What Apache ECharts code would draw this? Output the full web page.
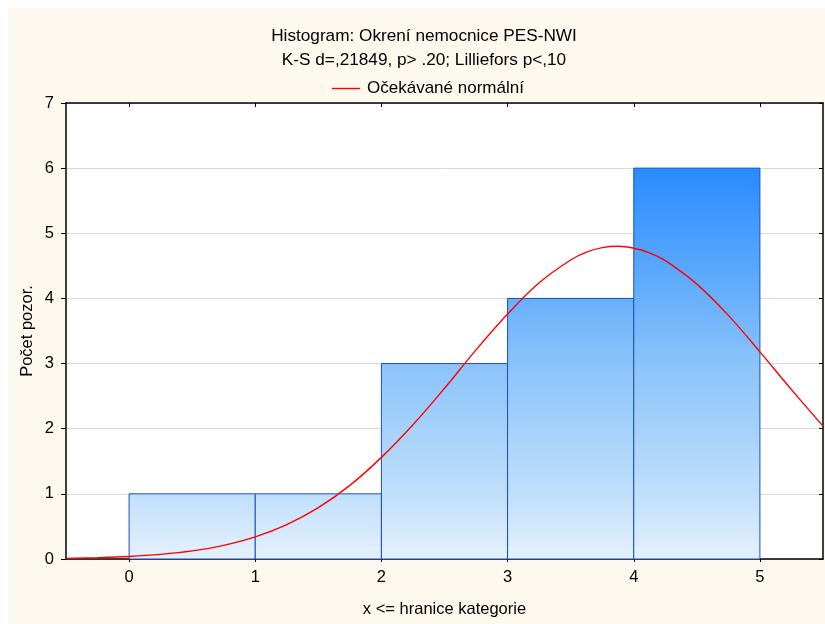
<!DOCTYPE html>
<html>
<head>
<meta charset="utf-8">
<script src="https://cdn.jsdelivr.net/npm/echarts@6/dist/echarts.min.js"></script>
<style>
html,body{margin:0;padding:0;background:#fff;}
#bg{position:absolute;left:8px;top:8px;width:817px;height:616px;background:#FDF9EF;}
#chart{position:absolute;left:0;top:0;width:825px;height:624px;}
</style>
</head>
<body>
<div id="bg"></div>
<div id="chart"></div>
<script>
// Histogram bins (upper bounds: x <= boundary)
const binStart = [0, 1, 2, 3, 4];
const binEnd = [1, 2, 3, 4, 5];
const counts = [1, 1, 3, 4, 6];
const xTicks = [0, 1, 2, 3, 4, 5];
const yTicks = [0, 1, 2, 3, 4, 5, 6, 7];
// Expected normal curve
const curveX = [-0.5, -0.25, 0, 0.25, 0.5, 0.75, 1, 1.25, 1.5, 1.75, 2, 2.25, 2.5, 2.75, 3, 3.25, 3.5, 3.625, 3.75, 3.875, 4, 4.125, 4.25, 4.5, 4.75, 5, 5.25, 5.5];
const curveY = [0.01, 0.021, 0.039, 0.071, 0.124, 0.21, 0.339, 0.528, 0.788, 1.13, 1.56, 2.06, 2.62, 3.21, 3.76, 4.24, 4.59, 4.71, 4.78, 4.80, 4.77, 4.70, 4.58, 4.22, 3.74, 3.18, 2.6, 2.04];

const titleText = 'Histogram: Okrení nemocnice PES-NWI';
const subText = 'K-S d=,21849, p> .20; Lilliefors p<,10';
const legendName = 'Očekávané normální';
const xName = 'x <= hranice kategorie';
const yName = 'Počet pozor.';

const FONT = '"Liberation Sans", Arial, sans-serif';
const chart = echarts.init(document.getElementById('chart'), null, {renderer: 'canvas'});

const barData = binStart.map((s, i) => [s, binEnd[i], counts[i]]);
const curveData = curveX.map((x, i) => [x, curveY[i]]);

const option = {
  backgroundColor: 'transparent',
  animation: false,
  graphic: [
    {type: 'text', x: 424, y: 36, style: {text: titleText, font: '17.2px ' + FONT, fill: '#000', textAlign: 'center', textVerticalAlign: 'middle'}},
    {type: 'text', x: 424, y: 60, style: {text: subText, font: '17.2px ' + FONT, fill: '#000', textAlign: 'center', textVerticalAlign: 'middle'}}
  ],
  legend: {
    left: 327, top: 75,
    itemWidth: 28, itemHeight: 14, itemGap: 10,
    textStyle: {fontFamily: FONT, fontSize: 17, color: '#000', padding: [0,0,0,2]},
    data: [{name: legendName, icon: 'path://M0,0 L28,0 L28,1.4 L0,1.4 Z', itemStyle: {color: '#FF0000'}}]
  },
  grid: {left: 66, top: 103, right: 2, bottom: 65, show: true, backgroundColor: '#fff', borderWidth: 0},
  xAxis: [
    {
      type: 'value', min: -0.5, max: 5.5, position: 'bottom',
      name: xName, nameLocation: 'middle', nameGap: 42,
      nameTextStyle: {fontFamily: FONT, fontSize: 16.5, color: '#000'},
      axisLine: {show: true, onZero: false, lineStyle: {color: '#000', width: 1.5}},
      axisTick: {show: true, inside: false, length: 3, customValues: xTicks, lineStyle: {color: '#000'}},
      axisLabel: {customValues: xTicks, fontFamily: FONT, fontSize: 16.5, color: '#000', margin: 10},
      splitLine: {show: false}
    },
    {
      type: 'value', min: -0.5, max: 5.5, position: 'top',
      axisLine: {show: true, onZero: false, lineStyle: {color: '#000', width: 1.5}},
      axisTick: {show: true, inside: true, length: 4, customValues: xTicks, lineStyle: {color: '#000'}},
      axisLabel: {show: false, customValues: xTicks},
      splitLine: {show: false}
    }
  ],
  yAxis: [
    {
      type: 'value', min: 0, max: 7, interval: 1, position: 'left',
      name: yName, nameLocation: 'middle', nameGap: 30, nameRotate: 90, nameMoveOverlap: false,
      nameTextStyle: {fontFamily: FONT, fontSize: 16.5, color: '#000'},
      axisLine: {show: true, onZero: false, lineStyle: {color: '#000', width: 1.5}},
      axisTick: {show: true, inside: false, length: 5, lineStyle: {color: '#000'}},
      axisLabel: {fontFamily: FONT, fontSize: 16.5, color: '#000', margin: 12},
      splitLine: {show: true, lineStyle: {color: '#D9D9D9', width: 1}}
    },
    {
      type: 'value', min: 0, max: 7, interval: 1, position: 'right',
      axisLine: {show: true, onZero: false, lineStyle: {color: '#000', width: 1.5}},
      axisTick: {show: true, inside: true, length: 4, lineStyle: {color: '#000'}},
      axisLabel: {show: false},
      splitLine: {show: false}
    }
  ],
  series: [
    {
      type: 'custom',
      name: 'bars',
      xAxisIndex: 0, yAxisIndex: 0,
      data: barData,
      encode: {x: [0, 1], y: 2},
      renderItem: function (params, api) {
        const x0 = api.value(0), x1 = api.value(1), v = api.value(2);
        const pTop = api.coord([x0, v]);
        const pBot = api.coord([x1, 0]);
        const yTop6 = api.coord([0, 6])[1];
        const yZero = api.coord([0, 0])[1];
        const grad = new echarts.graphic.LinearGradient(0, yZero, 0, yTop6, [
          {offset: 0, color: '#E5F1FE'},
          {offset: 1/6, color: '#C0DFFB'},
          {offset: 3/6, color: '#8AC3FA'},
          {offset: 4/6, color: '#68B0FC'},
          {offset: 1, color: '#288BFF'}
        ], true);
        return {
          type: 'rect',
          shape: {x: pTop[0], y: pTop[1], width: pBot[0] - pTop[0], height: pBot[1] - pTop[1]},
          style: {fill: grad, stroke: '#1A4FC4', lineWidth: 1}
        };
      },
      z: 2
    },
    {
      type: 'line',
      name: legendName,
      xAxisIndex: 0, yAxisIndex: 0,
      data: curveData,
      smooth: 0.35,
      showSymbol: false,
      lineStyle: {color: '#FF0000', width: 1.4},
      itemStyle: {color: '#FF0000'},
      z: 3
    }
  ]
};
chart.setOption(option);
</script>
</body>
</html>
